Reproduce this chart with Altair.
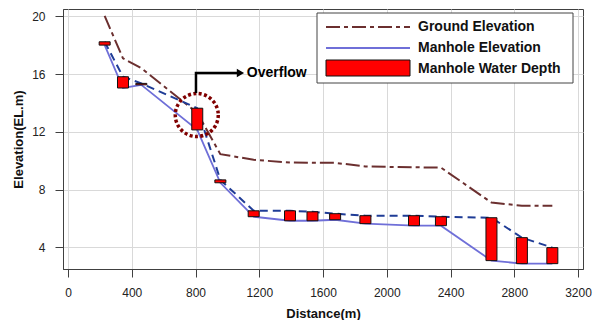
import altair as alt
import pandas as pd

# Manhole stations along the sewer line
distance = [230, 345, 460, 811, 956, 1165, 1393, 1534, 1676, 1866, 2171, 2340, 2657, 2848, 3039]
ground_elev = [20.02, 17.08, 16.4, 13.3, 10.45, 10.06, 9.87, 9.85, 9.85, 9.6, 9.54, 9.52, 7.1, 6.88, 6.88]
manhole_elev = [18.0, 15.03, 15.25, 12.13, 8.47, 6.12, 5.84, 5.84, 5.91, 5.64, 5.5, 5.5, 3.08, 2.87, 2.87]
water_level = [18.23, 15.81, 15.35, 13.63, 8.67, 6.53, 6.53, 6.46, 6.33, 6.19, 6.19, 6.12, 6.05, 4.67, 3.98]

# Overflow annotation (surcharged manhole)
overflow_x = 808
overflow_y = 13.16

df = pd.DataFrame({
    "distance": distance,
    "ground": ground_elev,
    "invert": manhole_elev,
    "water": water_level,
})

FONT = "Liberation Sans"
W, H = 520, 260

x_scale = alt.Scale(domain=[0, 3200], nice=False, zero=False)
y_scale = alt.Scale(domain=[2.5, 20.5], nice=False, zero=False)

x_axis = alt.Axis(
    title="Distance(m)",
    values=list(range(0, 3201, 200)),
    format="d",
    labelExpr="datum.value % 400 === 0 ? datum.label : ''",
    labelOverlap=False,
    labelPadding=10,
    labelFontSize=12,
    labelColor="#222222",
    tickSize={"condition": {"test": "datum.value % 400 === 0", "value": 8}, "value": 5},
    tickColor="#404040",
    gridOpacity={"condition": {"test": "datum.value % 400 === 0", "value": 1}, "value": 0},
    gridColor="#d9d9d9",
    domainColor="#404040",
    titleFontSize=13,
    titleFontWeight="bold",
    titleColor="#111111",
    titleY=44,
    titleBaseline="middle",
)

y_axis = alt.Axis(
    title="Elevation(EL.m)",
    values=[4, 6, 8, 10, 12, 14, 16, 18, 20],
    format="d",
    labelExpr="datum.value % 4 === 0 ? datum.label : ''",
    labelOverlap=False,
    labelPadding=10,
    labelFontSize=12,
    labelColor="#222222",
    tickSize={"condition": {"test": "datum.value % 4 === 0", "value": 8}, "value": 5},
    tickColor="#404040",
    gridOpacity={"condition": {"test": "datum.value % 4 === 0", "value": 1}, "value": 0},
    gridColor="#d9d9d9",
    domainColor="#404040",
    titleFontSize=13,
    titleFontWeight="bold",
    titleColor="#111111",
    titleAngle=-90,
    titleX=-45,
    titleY=H / 2,
    titleAlign="center",
    titleBaseline="middle",
)

base = alt.Chart(df)

ground = base.mark_line(color="#6b2f2f", strokeWidth=2, strokeDash=[14, 4, 4, 4]).encode(
    x=alt.X("distance:Q", scale=x_scale, axis=x_axis),
    y=alt.Y("ground:Q", scale=y_scale, axis=y_axis),
)

invert = base.mark_line(color="#6f6fd8", strokeWidth=1.8).encode(
    x=alt.X("distance:Q", scale=x_scale),
    y=alt.Y("invert:Q", scale=y_scale),
)

water = base.mark_line(color="#1f3c96", strokeWidth=2, strokeDash=[8, 5]).encode(
    x=alt.X("distance:Q", scale=x_scale),
    y=alt.Y("water:Q", scale=y_scale),
)

depth = base.mark_bar(color="#ff0000", stroke="#111111", strokeWidth=1, size=11).encode(
    x=alt.X("distance:Q", scale=x_scale),
    y=alt.Y("invert:Q", scale=y_scale),
    y2="water:Q",
)

# Overflow marker, leader arrow and label
ann = pd.DataFrame({"x": [overflow_x], "y": [overflow_y]})
circle = alt.Chart(ann).mark_point(
    shape="circle", size=1849, filled=False, color="#800000",
    strokeWidth=3.5, strokeDash=[3, 2.4], opacity=1,
).encode(x=alt.X("x:Q", scale=x_scale), y=alt.Y("y:Q", scale=y_scale))

arrow_path = pd.DataFrame({
    "x": [803, 803, 1073],
    "y": [14.68, 16.07, 16.07],
    "o": [0, 1, 2],
})
arrow = alt.Chart(arrow_path).mark_line(color="black", strokeWidth=2.5).encode(
    x=alt.X("x:Q", scale=x_scale), y=alt.Y("y:Q", scale=y_scale), order="o:Q",
)
arrow_head = alt.Chart(pd.DataFrame({"x": [1082], "y": [16.07]})).mark_point(
    shape="triangle-right", size=70, filled=True, color="black", opacity=1,
).encode(x=alt.X("x:Q", scale=x_scale), y=alt.Y("y:Q", scale=y_scale))
arrow_text = alt.Chart(pd.DataFrame({"x": [1122], "y": [16.07], "t": ["Overflow"]})).mark_text(
    align="left", baseline="middle", font=FONT, fontSize=14, fontWeight="bold", color="black",
).encode(x=alt.X("x:Q", scale=x_scale), y=alt.Y("y:Q", scale=y_scale), text="t:N")

# Legend box drawn in plot pixel space
one = pd.DataFrame({"k": [0]})
leg_box = alt.Chart(one).mark_rect(fill="white", stroke="#444444", strokeWidth=1).encode(
    x=alt.value(254), x2=alt.value(510), y=alt.value(4), y2=alt.value(74)
)
leg_ground = alt.Chart(one).mark_rule(color="#6b2f2f", strokeWidth=2, strokeDash=[14, 4, 4, 4]).encode(
    x=alt.value(263), x2=alt.value(347), y=alt.value(18)
)
leg_invert = alt.Chart(one).mark_rule(color="#6f6fd8", strokeWidth=1.8).encode(
    x=alt.value(263), x2=alt.value(347), y=alt.value(39)
)
leg_depth = alt.Chart(one).mark_rect(fill="#ff0000", stroke="#111111", strokeWidth=1).encode(
    x=alt.value(263), x2=alt.value(347), y=alt.value(51), y2=alt.value(67)
)
leg_labels = pd.DataFrame({
    "t": ["Ground Elevation", "Manhole Elevation", "Manhole Water Depth"],
    "py": [18, 39, 59.5],
})
leg_text = alt.Chart(leg_labels).mark_text(
    align="left", baseline="middle", font=FONT, fontSize=14, fontWeight="bold", color="#111111",
).encode(x=alt.value(355), y=alt.Y("py:Q", scale=None), text="t:N")

chart = alt.layer(
    ground, invert, water, depth, circle, arrow, arrow_head, arrow_text,
    leg_box, leg_ground, leg_invert, leg_depth, leg_text,
).properties(
    width=W,
    height=H,
    autosize=alt.AutoSizeParams(type="none"),
    padding={"left": 63, "top": 9, "right": 17, "bottom": 51},
    background="white",
).configure_view(
    stroke="#404040", strokeWidth=1
).configure_axis(
    labelFont=FONT, titleFont=FONT
)

chart.save("out.html", embed_options={"renderer": "svg", "actions": False})
